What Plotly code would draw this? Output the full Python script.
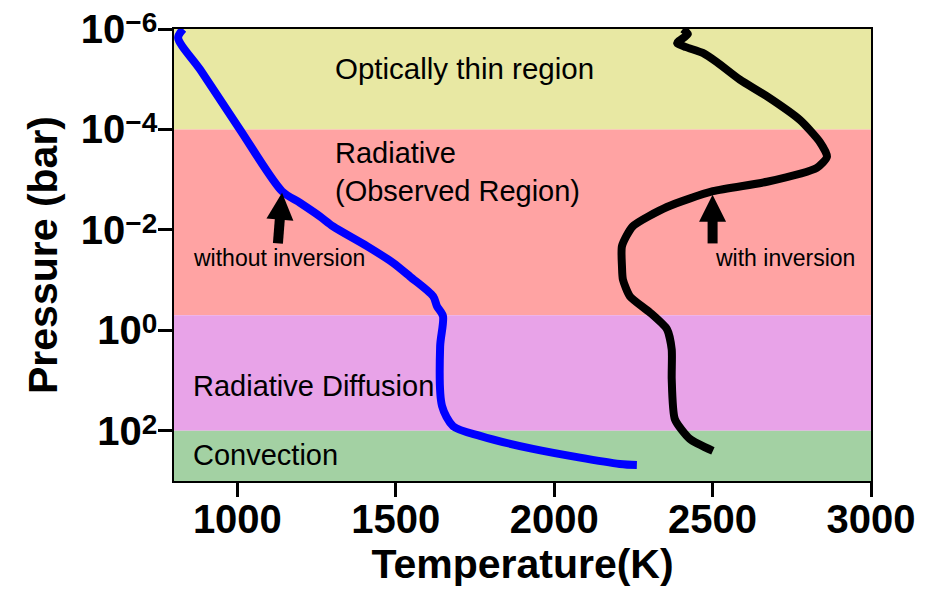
import plotly.graph_objects as go

# ---------------- data ----------------
# Region bands (pressure limits in bar, top -> bottom)
band_names = ["Optically thin region", "Radiative", "Radiative Diffusion", "Convection"]
band_top = [1e-6, 1e-4, 0.5, 100.0]
band_bottom = [1e-4, 0.5, 100.0, 1e3]
band_colors = ["#E8E8A3", "#FFA3A3", "#E8A3E8", "#A3D1A3"]

# T-P profile without inversion (blue)
T_no_inv = [829, 813, 883, 1008, 1141, 1198, 1261, 1302, 1409, 1491, 1545,
            1618, 1630, 1649, 1640, 1646, 1681, 1766, 1933, 2207, 2261]
P_no_inv = [1.0e-6, 1.5e-6, 6.5e-6, 1.0e-4, 1.7e-3, 2.9e-3, 5.4e-3, 8.5e-3,
            2.1e-2, 4.5e-2, 8.5e-2, 0.21, 0.33, 0.52, 2.1, 32, 81, 126, 229,
            457, 479]

# T-P profile with inversion (black)
T_inv = [2406, 2422, 2388, 2416, 2469, 2514, 2586, 2672, 2776, 2839, 2861,
         2829, 2672, 2501, 2356, 2248, 2214, 2214, 2217, 2239, 2302, 2356,
         2371, 2371, 2381, 2428, 2501]
P_inv = [1.0e-6, 1.26e-6, 1.9e-6, 2.3e-6, 3.0e-6, 4.6e-6, 1.02e-5, 2.2e-5,
         6.5e-5, 1.8e-4, 3.5e-4, 5.8e-4, 1.1e-3, 1.7e-3, 3.5e-3, 8.5e-3,
         2.1e-2, 5.4e-2, 9.8e-2, 0.21, 0.44, 0.95, 2.4, 9.3, 59, 145, 251]

# Arrows: tip, shaft end (inside head) and tail
arrow_tip_T = [1141, 2500]
arrow_tip_P = [1.82e-3, 2.0e-3]
arrow_neck_T = [1135, 2500]
arrow_neck_P = [5.1e-3, 5.6e-3]
arrow_tail_T = [1128, 2500]
arrow_tail_P = [1.86e-2, 1.86e-2]
arrow_angle = [4.5, 0]

# Labels
label_texts = ["Optically thin region", "Radiative<br>(Observed Region)",
               "Radiative Diffusion", "Convection",
               "without inversion", "with inversion"]
label_T = [1303, 1303, 854, 854, 854, 2501]
label_logP = [-5.22, -3.15, 1.10, 2.48, -1.45, -1.45]
label_sizes = [29.5, 29, 29, 29, 23, 23]

y_tickvals = [1e-6, 1e-4, 1e-2, 1e0, 1e2]
y_exponents = ["−6", "−4", "−2", "0", "2"]
x_tickvals = [1000, 1500, 2000, 2500, 3000]

FONT = "Liberation Sans"
SUP_STYLE = "font-size:28px;baseline-shift:11px"
y_ticktext = ['10<span style="%s">%s</span>' % (SUP_STYLE, e) for e in y_exponents]

fig = go.Figure()

for top, bot, col in zip(band_top, band_bottom, band_colors):
    fig.add_shape(type="rect", xref="paper", yref="y", x0=0, x1=1,
                  y0=top, y1=bot, fillcolor=col, line_width=0, layer="below")

fig.add_trace(go.Scatter(x=T_no_inv, y=P_no_inv, mode="lines",
                         line=dict(color="#0000FF", width=8, shape="spline", smoothing=0.8),
                         showlegend=False, hoverinfo="skip"))
fig.add_trace(go.Scatter(x=T_inv, y=P_inv, mode="lines",
                         line=dict(color="black", width=8, shape="spline", smoothing=0.6),
                         showlegend=False, hoverinfo="skip"))

for i in range(len(arrow_tip_T)):
    fig.add_trace(go.Scatter(x=[arrow_tail_T[i], arrow_neck_T[i]],
                             y=[arrow_tail_P[i], arrow_neck_P[i]],
                             mode="lines", line=dict(color="black", width=10),
                             showlegend=False, hoverinfo="skip"))
    fig.add_trace(go.Scatter(x=[arrow_tip_T[i]], y=[arrow_tip_P[i]],
                             mode="markers",
                             marker=dict(symbol="arrow-up", size=27, color="black",
                                         angle=arrow_angle[i], line_width=0),
                             showlegend=False, hoverinfo="skip"))

for txt, tx, ly, sz in zip(label_texts, label_T, label_logP, label_sizes):
    fig.add_annotation(x=tx, y=ly, xref="x", yref="y", text=txt,
                       showarrow=False, xanchor="left", yanchor="middle",
                       align="left",
                       font=dict(family=FONT, size=sz, color="black"))

fig.update_xaxes(range=[800, 3000], tickvals=x_tickvals, automargin=False,
                 ticks="outside", ticklen=14, tickwidth=3, tickcolor="black",
                 ticklabelstandoff=-12, ticklabeloverflow="allow",
                 showline=True, linecolor="black", linewidth=1.5, mirror=True,
                 showgrid=False, zeroline=False,
                 tickfont=dict(family=FONT, size=40, color="black", weight="bold"),
                 title=dict(text="Temperature(K)", standoff=6,
                            font=dict(family=FONT, size=41, color="black", weight="bold")))
fig.update_yaxes(type="log", range=[3, -6], tickvals=y_tickvals, ticktext=y_ticktext,
                 automargin=False,
                 ticks="outside", ticklen=14, tickwidth=3, tickcolor="black",
                 ticklabelstandoff=-7, ticklabeloverflow="allow",
                 showline=True, linecolor="black", linewidth=1.5, mirror=True,
                 showgrid=False, zeroline=False,
                 tickfont=dict(family=FONT, size=40, color="black", weight="bold"),
                 title=dict(text="Pressure (bar)", standoff=10,
                            font=dict(family=FONT, size=41, color="black", weight="bold")))

fig.update_layout(width=932, height=605,
                  margin=dict(l=166, r=69, t=21, b=132),
                  paper_bgcolor="white", plot_bgcolor="white",
                  showlegend=False)

fig.write_html("out.html")
